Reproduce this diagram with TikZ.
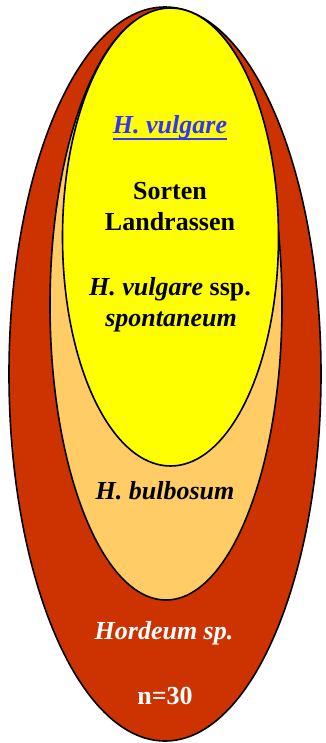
\documentclass[tikz,border=0pt]{standalone}
\usepackage{fontspec}
\setmainfont{Liberation Serif}
\definecolor{hordred}{HTML}{CC3300}
\definecolor{bulborange}{HTML}{FFCC66}
\definecolor{vulgyellow}{HTML}{FFFF00}
\definecolor{linkblue}{HTML}{3333FF}
\begin{document}
\begin{tikzpicture}[
  x=1pt, y=-1pt,
  pool/.style={draw=black, line width=1.6pt},
  txt/.style={font=\fontsize{26}{30.5}\selectfont\bfseries, align=center, anchor=base, inner sep=0pt}
]
  \useasboundingbox (0,0) rectangle (325,743);

  % Genpools, von aussen nach innen
  \draw[pool, fill=hordred] (165,374) ellipse [x radius=156pt, y radius=367pt];
  \draw[pool, fill=bulborange] (166,305) ellipse [x radius=116pt, y radius=295pt];
  \draw[pool, fill=vulgyellow] (170.5,237) ellipse [x radius=108pt, y radius=229pt];

  % Beschriftung im inneren Genpool
  \node[txt, text=linkblue] (vulg) at (170,134) {\itshape H. vulgare};
  \draw[linkblue, line width=2pt] ([yshift=-5pt]vulg.base west) -- ([yshift=-5pt]vulg.base east);
  \node[txt] (sorten) at (170,199.5) {Sorten};
  \node[txt] (land) at (170,230) {Landrassen};
  \node[txt] (ssp) at (170,295) {\itshape H. vulgare\/ \upshape ssp.};
  \node[txt] (spont) at (171,326) {\itshape spontaneum};

  % Sekundaerer und tertiaerer Genpool
  \node[txt] (bulb) at (165,499) {\itshape H. bulbosum};
  \node[txt, text=white] (hord) at (164,639) {\itshape Hordeum sp.};
  \node[txt, text=white] (chrom) at (165,704) {n=30};
\end{tikzpicture}
\end{document}
